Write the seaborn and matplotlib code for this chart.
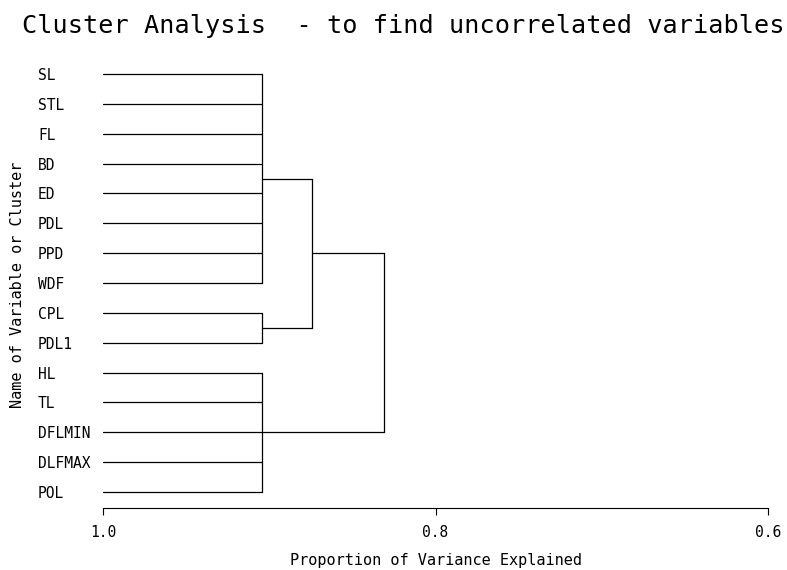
import matplotlib
matplotlib.use("Agg")
import matplotlib.pyplot as plt
import seaborn as sns
import pandas as pd

# ---- data ----
variables = ["SL", "STL", "FL", "BD", "ED", "PDL", "PPD", "WDF",
             "CPL", "PDL1", "HL", "TL", "DFLMIN", "DLFMAX", "POL"]
leaf_cluster = [0, 0, 0, 0, 0, 0, 0, 0, 1, 1, 2, 2, 2, 2, 2]
cluster_height = [0.9046, 0.9046, 0.9046]          # first-level clusters
merge_children = [(0, 1), (3, 2)]                   # new nodes 3, 4
merge_height = [0.8745, 0.8313]
x_ticks = [1.0, 0.8, 0.6]
x_tick_labels = ["1.0", "0.8", "0.6"]
title = "Cluster Analysis  - to find uncorrelated variables"
x_label = "Proportion of Variance Explained"
y_label = "Name of Variable or Cluster"

# ---- build tree segments from the data ----
rows = []
seg = 0
def add(x0, y0, x1, y1):
    global seg
    rows.append({"seg": seg, "x": x0, "y": y0})
    rows.append({"seg": seg, "x": x1, "y": y1})
    seg += 1

node_pos = {}
node_h = {}
for c, h in enumerate(cluster_height):
    members = [i for i, cc in enumerate(leaf_cluster) if cc == c]
    for i in members:
        add(1.0, i, h, i)
    add(h, min(members), h, max(members))
    node_pos[c] = (min(members) + max(members)) / 2
    node_h[c] = h

n = len(cluster_height)
for k, ((a, b), h) in enumerate(zip(merge_children, merge_height)):
    for ch in (a, b):
        add(node_h[ch], node_pos[ch], h, node_pos[ch])
    add(h, node_pos[a], h, node_pos[b])
    node_pos[n + k] = (node_pos[a] + node_pos[b]) / 2
    node_h[n + k] = h

df = pd.DataFrame(rows)

# ---- plot ----
sns.set_style("white")
plt.rcParams["font.family"] = ["DejaVu Sans Mono", "DejaVu Sans"]
plt.rcParams["text.color"] = "black"
plt.rcParams["axes.labelcolor"] = "black"
plt.rcParams["xtick.color"] = "black"
plt.rcParams["ytick.color"] = "black"

fig = plt.figure(figsize=(7.87, 5.70), dpi=100)
ax = fig.add_axes([0.1313, 0.1082, 0.8442, 0.7865])

sns.lineplot(data=df, x="x", y="y", units="seg", estimator=None, sort=False,
             color="black", linewidth=0.9, ax=ax, legend=False)

ax.set_xlim(1.0, 0.6)
ax.set_ylim(14.546, -0.469)

ax.set_xticks(x_ticks)
ax.set_xticklabels(x_tick_labels, fontsize=10.5, color="black")
ax.tick_params(axis="x", direction="out", length=5, width=0.8, pad=7,
               colors="black", bottom=True)

ax.set_yticks(range(len(variables)))
ax.set_yticklabels(variables, fontsize=10.5, ha="left", color="black")
ax.tick_params(axis="y", length=0, pad=47)

for s in ["left", "top", "right"]:
    ax.spines[s].set_visible(False)
ax.spines["bottom"].set_color("black")
ax.spines["bottom"].set_linewidth(0.8)

ax.set_xlabel(x_label, fontsize=11, color="black")
ax.xaxis.set_label_coords(0.5, -0.1153)
ax.xaxis.label.set_va("center")

ax.set_ylabel(y_label, fontsize=11, color="black")
ax.yaxis.set_label_coords(-0.1299, 0.4992)
ax.yaxis.label.set_va("center")

ax.set_title(title, fontsize=18.2, x=0.451, y=1.0758, va="center", pad=0,
             color="black")

fig.savefig("out.png", dpi=100)
